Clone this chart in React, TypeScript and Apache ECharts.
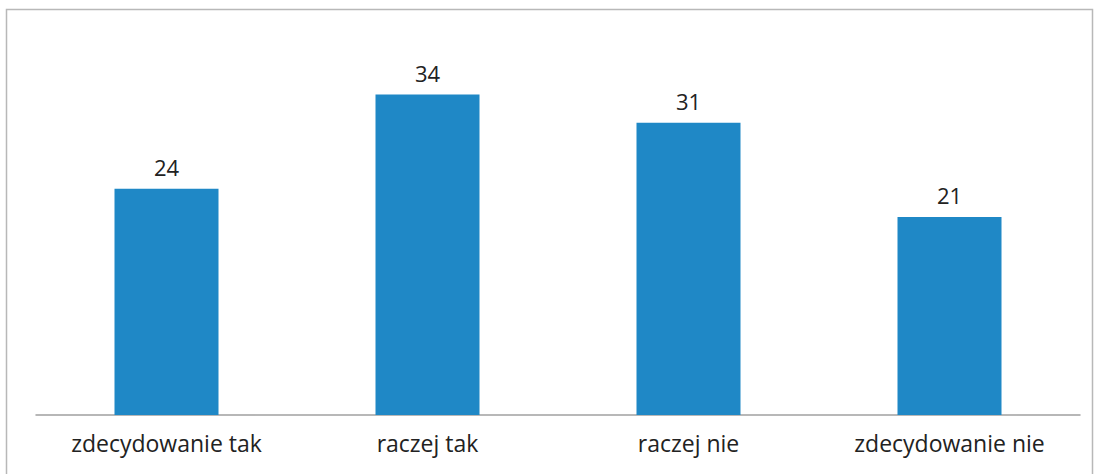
import React, { useEffect, useRef } from "react";
import * as echarts from "echarts";

const categories = ["zdecydowanie tak", "raczej tak", "raczej nie", "zdecydowanie nie"];
const values = [24, 34, 31, 21];

export default function App() {
  const ref = useRef<HTMLDivElement>(null);
  useEffect(() => {
    const chart = echarts.init(ref.current!, null, { renderer: "svg" });
    chart.setOption({
      animation: false,
      backgroundColor: "#ffffff",
      graphic: [
        {
          type: "rect",
          shape: { x: 6.5, y: 9.5, width: 1086, height: 480 },
          style: { fill: "none", stroke: "#b8b8b8", lineWidth: 1.5 },
        },
      ],
      grid: { left: 36, right: 16, top: 38, bottom: 59 },
      xAxis: {
        type: "category",
        data: categories,
        axisLine: { lineStyle: { color: "#a0a0a0", width: 1.5 } },
        axisTick: { show: false },
        axisLabel: {
          color: "#222",
          fontSize: 23,
          fontFamily: "Open Sans",
          margin: 16,
        },
      },
      yAxis: {
        type: "value",
        min: 0,
        max: 40,
        show: false,
        splitLine: { show: false },
      },
      series: [
        {
          type: "bar",
          data: values,
          barWidth: 104,
          itemStyle: { color: "#1f88c6" },
          label: {
            show: true,
            position: "top",
            distance: 11,
            color: "#222",
            fontSize: 22,
            fontFamily: "Open Sans",
          },
        },
      ],
    });
    return () => chart.dispose();
  }, []);
  return <div ref={ref} style={{ width: 1096, height: 474, position: "absolute", left: 0, top: 0 }} />;
}
